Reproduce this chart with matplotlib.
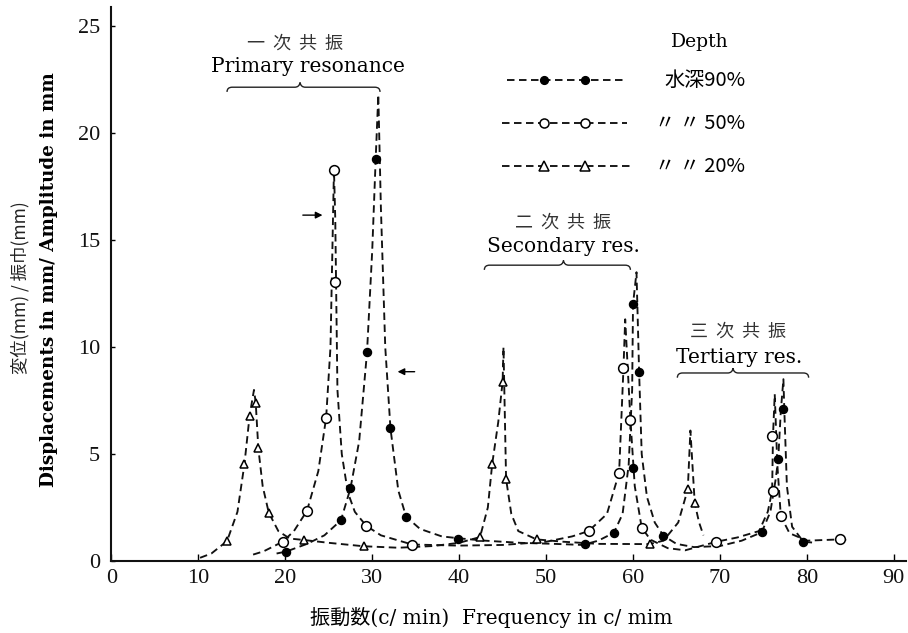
import matplotlib
matplotlib.use('Agg')
import matplotlib.pyplot as plt
from matplotlib.path import Path
from matplotlib.patches import PathPatch

# ---------------- data ----------------
# measured points
f90 = [20.1, 26.4, 27.5, 29.4, 30.4, 32.1, 33.9, 39.9, 54.5, 57.8, 60.0, 60.0, 60.7, 63.5, 74.8, 76.7, 77.2, 79.6]
v90 = [0.44, 1.9, 3.4, 9.75, 18.8, 6.2, 2.07, 1.04, 0.8, 1.33, 4.33, 12.0, 8.85, 1.18, 1.34, 4.75, 7.1, 0.88]

f50 = [19.7, 22.5, 24.7, 25.65, 25.7, 29.3, 34.6, 54.9, 58.4, 58.9, 59.7, 61.0, 69.6, 76.0, 76.1, 77.0, 83.8]
v50 = [0.9, 2.35, 6.7, 18.3, 13.05, 1.65, 0.77, 1.4, 4.13, 9.0, 6.6, 1.56, 0.9, 5.84, 3.27, 2.1, 1.01]

f20 = [13.3, 15.3, 15.9, 16.6, 16.9, 18.1, 22.2, 29.0, 42.4, 43.8, 45.0, 45.4, 48.9, 61.9, 66.3, 67.1]
v20 = [0.93, 4.52, 6.8, 7.4, 5.27, 2.26, 0.98, 0.69, 1.12, 4.53, 8.38, 3.83, 1.01, 0.79, 3.35, 2.7]

# hand-drawn resonance curves (vertices)
cf90 = [19.0, 20.1, 22.5, 24.5, 26.4, 27.5, 28.5, 29.4, 30.0, 30.4, 30.7, 31.0, 31.5, 32.1, 33.0, 33.9, 35.5, 38.0,
        40.0, 43.0, 47.0, 51.0, 54.2, 56.0, 57.8, 58.8, 59.5, 59.9, 60.0, 60.4, 60.7, 61.0, 61.6, 62.5, 63.5, 65.0,
        67.0, 70.0, 72.5, 74.8, 75.8, 76.4, 76.7, 77.0, 77.3, 77.4, 77.7, 78.3, 79.6, 81.0]
cv90 = [0.35, 0.44, 0.8, 1.2, 1.9, 3.4, 5.6, 9.75, 14.5, 18.8, 21.8, 16.5, 10.0, 6.2, 3.3, 2.07, 1.5, 1.15,
        1.06, 0.95, 0.85, 0.8, 0.75, 0.95, 1.32, 2.2, 4.5, 8.0, 12.0, 13.5, 8.85, 5.0, 3.0, 1.8, 1.18, 0.8,
        0.65, 0.7, 0.95, 1.34, 2.3, 3.8, 4.75, 7.0, 8.5, 7.1, 3.5, 1.6, 0.9, 0.85]

cf50 = [16.3, 17.5, 19.7, 21.0, 22.5, 23.8, 24.7, 25.2, 25.6, 25.75, 26.0, 26.5, 27.2, 28.0, 29.3, 31.0, 34.6,
        40.0, 45.0, 50.0, 53.0, 54.9, 57.0, 58.4, 58.9, 59.1, 59.7, 60.2, 61.0, 62.0, 64.0, 66.0, 69.6,
        72.0, 74.5, 75.5, 76.0, 76.1, 76.3, 76.6, 77.0, 78.0, 80.0, 83.8, 85.0]
cv50 = [0.3, 0.45, 0.9, 1.4, 2.35, 4.2, 6.7, 10.0, 18.3, 16.0, 8.0, 5.0, 3.2, 2.3, 1.65, 1.2, 0.77,
        0.72, 0.75, 0.9, 1.15, 1.4, 2.2, 4.13, 9.0, 11.3, 6.6, 3.5, 1.56, 1.0, 0.6, 0.5, 0.9,
        1.1, 1.4, 2.3, 3.27, 5.84, 7.8, 4.5, 2.1, 1.3, 0.95, 1.01, 0.95]

cf20 = [10.2, 11.5, 13.3, 14.5, 15.3, 15.9, 16.4, 16.6, 16.9, 17.4, 18.1, 19.2, 20.5, 22.2, 25.0, 29.0, 33.0,
        37.0, 40.0, 42.4, 43.3, 43.8, 44.5, 45.0, 45.1, 45.4, 46.0, 46.8, 48.9, 52.0, 56.0, 61.9, 63.5, 65.2,
        66.3, 66.6, 67.1, 67.6, 68.1]
cv20 = [0.15, 0.35, 0.93, 2.3, 4.52, 6.8, 8.0, 7.4, 5.27, 3.5, 2.26, 1.4, 1.05, 0.98, 0.85, 0.69, 0.62,
        0.7, 0.85, 1.12, 2.5, 4.53, 6.5, 8.38, 10.0, 3.83, 2.2, 1.4, 1.01, 0.9, 0.8, 0.79, 0.95, 1.8,
        3.35, 6.1, 2.7, 1.8, 1.2]

xticks = [0, 10, 20, 30, 40, 50, 60, 70, 80, 90]
yticks = [0, 5, 10, 15, 20, 25]

# ---------------- figure ----------------
W, H = 908, 633
fig = plt.figure(figsize=(W / 100, H / 100), dpi=100)
ax = fig.add_axes([111.4 / W, (H - 561) / H, (906 - 111.4) / W, (561 - 7) / H])
ax.set_xlim(0, 91.4)
ax.set_ylim(0, 25.9)

for s in ('top', 'right'):
    ax.spines[s].set_visible(False)
for s in ('left', 'bottom'):
    ax.spines[s].set_linewidth(1.5)
    ax.spines[s].set_color('#111111')

SERIF = ['Liberation Serif', 'DejaVu Serif']
MIXED = ['DejaVu Serif', 'Noto Sans CJK JP']
CJK = ['Noto Sans CJK JP', 'DejaVu Serif']

ax.set_xticks(xticks)
ax.set_yticks(yticks)
ax.tick_params(axis='x', direction='in', length=5, width=1, pad=6)
ax.tick_params(axis='y', direction='in', length=3, width=1, pad=8)
for lab in ax.get_xticklabels() + ax.get_yticklabels():
    lab.set_fontfamily(SERIF)
    lab.set_fontsize(16)
    lab.set_color('#111111')

dash = (4, 2.4)
lw = 1.35
ax.plot(cf90, cv90, color='#111111', lw=lw, dashes=dash)
ax.plot(cf50, cv50, color='#111111', lw=lw, dashes=dash)
ax.plot(cf20, cv20, color='#111111', lw=lw, dashes=dash)

ax.plot(f90, v90, 'o', ms=5.8, mfc='black', mec='black', ls='none', zorder=3)
ax.plot(f50, v50, 'o', ms=7, mfc='white', mec='black', mew=1.1, ls='none', zorder=3)
ax.plot(f20, v20, '^', ms=6, mfc='white', mec='black', mew=1.1, ls='none', zorder=3)

# ---------------- legend (drawn by hand) ----------------
ax.text(67.7, 24.25, 'Depth', ha='center', va='center', fontsize=13.5, family=MIXED)
leg = [
    (45.5, 59.1, 22.48, 'o', 'black', '水深90%'),
    (44.9, 59.3, 20.47, 'o', 'white', '〃 〃 50%'),
    (44.9, 59.6, 18.46, '^', 'white', '〃 〃 20%'),
]
for x0, x1, y, mk, fc, txt in leg:
    ax.plot([x0, x1], [y, y], color='#111111', lw=lw, dashes=dash, clip_on=False)
    ax.plot([49.8, 54.5], [y, y], mk, ms=6.5 if fc == 'white' else 5.5, mfc=fc, mec='black',
            mew=1.1, ls='none', clip_on=False)
    ax.text(72.9, y, txt, ha='right', va='center', fontsize=14.5, family=CJK)

# ---------------- annotations ----------------
def brace(x0, x1, xm, y, h=0.22, w=0.6):
    verts = [(x0, y - h), (x0, y), (x0 + w, y), (xm - w, y), (xm - 0.15 * w, y), (xm, y + h),
             (xm + 0.15 * w, y), (xm + w, y), (x1 - w, y), (x1, y), (x1, y - h)]
    codes = [Path.MOVETO, Path.CURVE3, Path.CURVE3, Path.LINETO, Path.CURVE3, Path.CURVE3,
             Path.CURVE3, Path.CURVE3, Path.LINETO, Path.CURVE3, Path.CURVE3]
    ax.add_patch(PathPatch(Path(verts, codes), fill=False, lw=1.0, ec='#222222', clip_on=False))

HDR = dict(ha='center', va='center', fontsize=13, family=CJK, color='#333333')
ax.text(21.1, 24.2, '一  次  共  振', **HDR)
ax.text(22.6, 23.1, 'Primary resonance', ha='center', va='center', fontsize=14.5, family=MIXED)
brace(13.3, 30.9, 21.7, 22.15)

ax.text(52.0, 15.84, '二  次  共  振', **HDR)
ax.text(52.0, 14.72, 'Secondary res.', ha='center', va='center', fontsize=14.5, family=MIXED)
brace(42.9, 59.7, 52.0, 13.83)

ax.text(72.1, 10.7, '三  次  共  振', **HDR)
ax.text(72.2, 9.53, 'Tertiary res.', ha='center', va='center', fontsize=14.5, family=MIXED)
brace(65.1, 80.2, 71.5, 8.79)

ax.annotate('', xy=(24.6, 16.17), xytext=(21.7, 16.17),
            arrowprops=dict(arrowstyle='-|>', color='black', lw=1.0, mutation_scale=10))
ax.annotate('', xy=(32.6, 8.85), xytext=(35.2, 8.85),
            arrowprops=dict(arrowstyle='-|>', color='black', lw=1.0, mutation_scale=10))

# ---------------- axis titles ----------------
fig.text(491.5 / W, 1 - 618 / H, '振動数(c/ min)  Frequency in c/ mim', ha='center', va='center',
         fontsize=14.5, family=MIXED)
fig.text(20 / W, 1 - 288 / H, '変位(mm) / 振巾(mm)', rotation=90, ha='center', va='center',
         fontsize=12.5, family=CJK, color='#222222')
fig.text(49 / W, 1 - 280 / H, 'Displacements in mm/ Amplitude in mm', rotation=90, ha='center',
         va='center', fontsize=13.2, fontweight='bold', family=MIXED)

fig.savefig('out.png', dpi=100)
